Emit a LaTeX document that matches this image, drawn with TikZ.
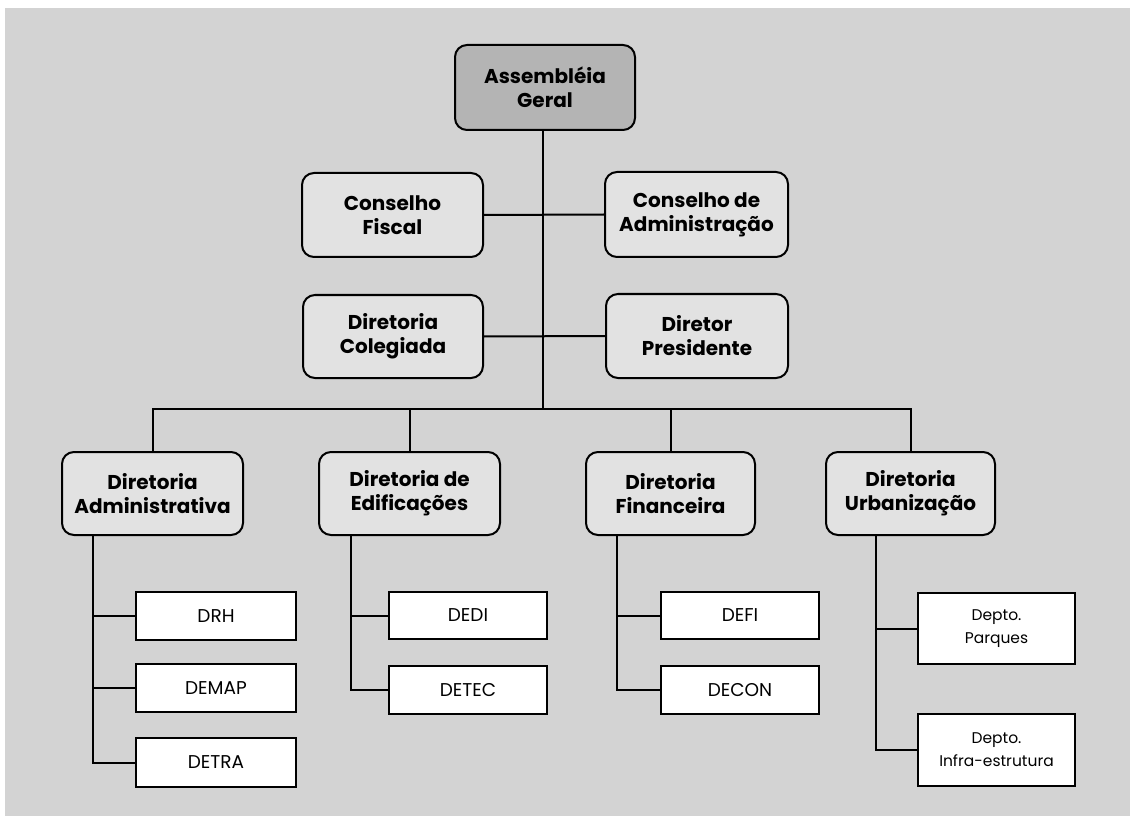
\documentclass[tikz,border=0pt]{standalone}
\usepackage{fontspec}
\setmainfont{Poppins}
\usetikzlibrary{positioning}
\definecolor{bgc}{HTML}{D3D3D3}
\definecolor{topc}{HTML}{B4B4B4}
\definecolor{midc}{HTML}{E2E2E2}
\tikzset{
  rbox/.style={draw=black, line width=2pt, rounded corners=12pt, fill=midc,
    align=center, font=\bfseries\fontsize{20}{24}\selectfont, inner sep=1pt},
  topbox/.style={rbox, fill=topc},
  sbox/.style={draw=black, line width=2pt, fill=white, align=center,
    font=\fontsize{18.5}{22}\selectfont, inner sep=1pt},
  conn/.style={draw=black, line width=2pt},
}
\begin{document}
\begin{tikzpicture}[x=1pt,y=-1pt]
\useasboundingbox (0,0) rectangle (1132,818);
\fill[white] (0,0) rectangle (1132,818);
\fill[bgc] (5,8) rectangle (1130,816);
% top
\node[topbox, minimum width=180pt, minimum height=85pt] (AG) at (545,87.5) {Assembléia\\Geral};
% second level
\node[rbox, minimum width=181pt, minimum height=84pt] (CF) at (392.5,215) {Conselho\\Fiscal};
\node[rbox, minimum width=183pt, minimum height=85pt] (CA) at (696.5,214.5) {Conselho de\\Administração};
\node[rbox, minimum width=180pt, minimum height=83pt] (DC) at (393,336.5) {Diretoria\\Colegiada};
\node[rbox, minimum width=182pt, minimum height=84pt] (DP) at (697,336) {Diretor\\Presidente};
% directorates
\node[rbox, minimum width=181pt, minimum height=83pt] (DA) at (152.5,493.5) {Diretoria\\Administrativa};
\node[rbox, minimum width=181pt, minimum height=83pt] (DE) at (409.5,493.5) {Diretoria de\\Edificações};
\node[rbox, minimum width=169pt, minimum height=83pt] (DF) at (670.5,493.5) {Diretoria\\Financeira};
\node[rbox, minimum width=169pt, minimum height=83pt] (DU) at (910.5,493.5) {Diretoria\\Urbanização};
% departments
\node[sbox, minimum width=160pt, minimum height=48pt] (DRH) at (216,616) {DRH};
\node[sbox, minimum width=160pt, minimum height=48pt] (DEMAP) at (216,688) {DEMAP};
\node[sbox, minimum width=160pt, minimum height=49pt] (DETRA) at (216,762.5) {DETRA};
\node[sbox, minimum width=158pt, minimum height=47pt] (DEDI) at (468,615.5) {DEDI};
\node[sbox, minimum width=158pt, minimum height=48pt] (DETEC) at (468,690) {DETEC};
\node[sbox, minimum width=158pt, minimum height=47pt] (DEFI) at (740,615.5) {DEFI};
\node[sbox, minimum width=158pt, minimum height=48pt] (DECON) at (740,690) {DECON};
\node[sbox, minimum width=157pt, minimum height=71pt, font=\fontsize{15.5}{23}\selectfont] (DPQ) at (996.5,628.5) {Depto.\\Parques};
\node[sbox, minimum width=157pt, minimum height=72pt, font=\fontsize{15.5}{23}\selectfont] (DIE) at (996.5,750) {Depto.\\Infra-estrutura};
% coordinates
\coordinate (bus) at (543,408.5);
\coordinate (ta) at (93,535);
\coordinate (te) at (351,535);
\coordinate (tf) at (617,535);
\coordinate (tu) at (876,535);
% trunk
\draw[conn] (AG.south -| bus) -- (bus);
\draw[conn] (CF.east) -- (CA.west);
\draw[conn] (DC.east) -- (DP.west);
% bus
\draw[conn] (DA.north) -- (DA.north |- bus) -- (DU.north |- bus) -- (DU.north);
\draw[conn] (DE.north) -- (DE.north |- bus);
\draw[conn] (DF.north) -- (DF.north |- bus);
% departments
\draw[conn] (ta) |- (DETRA.west);
\draw[conn] (ta |- DRH.west) -- (DRH.west);
\draw[conn] (ta |- DEMAP.west) -- (DEMAP.west);
\draw[conn] (te) |- (DETEC.west);
\draw[conn] (te |- DEDI.west) -- (DEDI.west);
\draw[conn] (tf) |- (DECON.west);
\draw[conn] (tf |- DEFI.west) -- (DEFI.west);
\draw[conn] (tu) |- (DIE.west);
\draw[conn] (tu |- DPQ.west) -- (DPQ.west);
\end{tikzpicture}
\end{document}
